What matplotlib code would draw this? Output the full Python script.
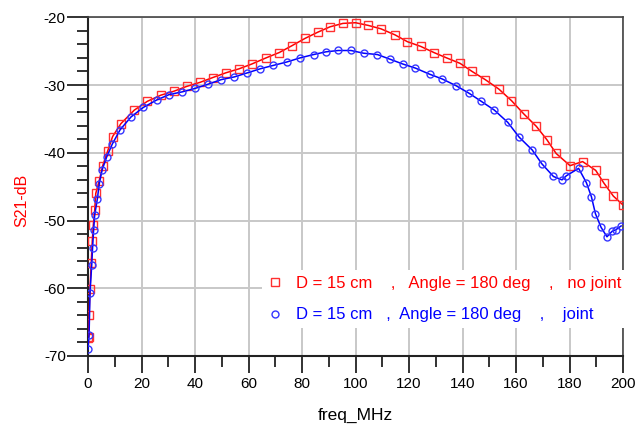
import matplotlib
matplotlib.use("Agg")
import matplotlib.pyplot as plt
from matplotlib.lines import Line2D
from matplotlib.ticker import MultipleLocator

# no joint (red squares)
freq_nojoint = [0.0, 0.25, 0.4, 0.75, 1.2, 1.6, 2.0, 2.5, 2.9, 4.2,
                5.5, 7.3, 9.2, 12.3, 17.3, 22.2, 27.2, 32.2, 36.9, 41.9,
                46.6, 51.5, 56.5, 61.2, 66.5, 71.5, 76.2, 81.2, 85.9, 90.5,
                95.3, 100.0, 104.8, 109.5, 114.8, 119.4, 124.4, 129.3, 134.1, 139.1,
                143.6, 148.5, 153.6, 158.3, 163.0, 167.6, 171.6, 175.0, 180.2, 184.9,
                189.8, 192.9, 196.4, 200.0]
s21_nojoint = [-67.3, -67.2, -63.9, -60.1, -56.3, -53.0, -50.6, -48.5, -46.0, -44.1,
               -41.9, -39.8, -37.6, -35.7, -33.7, -32.4, -31.5, -30.9, -30.2, -29.6,
               -28.9, -28.2, -27.6, -26.9, -26.0, -25.2, -24.2, -23.1, -22.2, -21.4,
               -20.9, -20.8, -21.2, -21.7, -22.6, -23.6, -24.3, -25.2, -26.0, -26.8,
               -28.0, -29.2, -30.6, -32.3, -34.3, -36.1, -38.1, -40.1, -41.9, -41.3,
               -42.6, -44.5, -46.4, -47.7]

# joint (blue circles)
freq_joint = [0.0, 0.4, 0.75, 1.4, 1.7, 2.1, 2.5, 3.5, 4.2, 5.3,
              7.0, 9.1, 12.0, 16.1, 20.7, 25.7, 30.4, 35.3, 40.0, 44.7,
              49.8, 54.7, 59.6, 64.4, 69.3, 74.3, 79.2, 84.3, 88.9, 93.6,
              98.3, 103.0, 108.2, 113.0, 117.7, 122.4, 127.7, 132.4, 137.6, 142.4,
              147.0, 151.9, 156.9, 161.2, 166.1, 169.6, 174.0, 177.2, 178.8, 183.4,
              186.3, 188.2, 189.7, 191.8, 194.0, 195.9, 197.2, 199.3]
s21_joint = [-69.0, -66.9, -60.7, -56.5, -54.1, -51.4, -49.2, -46.8, -44.6, -42.5,
             -40.6, -38.7, -36.6, -34.7, -33.3, -32.2, -31.4, -31.0, -30.5, -29.9,
             -29.2, -28.8, -28.2, -27.6, -27.1, -26.6, -26.0, -25.5, -25.1, -24.9,
             -24.9, -25.3, -25.5, -26.2, -26.9, -27.5, -28.4, -29.1, -30.1, -31.2,
             -32.4, -33.7, -35.5, -37.7, -39.6, -41.6, -43.5, -44.0, -43.4, -42.3,
             -44.4, -46.5, -49.0, -51.0, -52.4, -51.6, -51.4, -50.8]

labels = ["D = 15 cm    ,   Angle = 180 deg    ,   no joint",
          "D = 15 cm   ,  Angle = 180 deg    ,    joint"]

plt.rcParams["font.family"] = ["Liberation Sans", "DejaVu Sans"]
plt.rcParams["axes.unicode_minus"] = False

RED = "#ff0000"
BLUE = "#0000ff"

fig = plt.figure(figsize=(6.37, 4.28), dpi=100)
ax = fig.add_axes([88 / 637, 1 - 356 / 428, (623 - 88) / 637, (356 - 17.3) / 428])

ax.plot(freq_nojoint, s21_nojoint, "-", color=RED, lw=1.1, marker="s",
        ms=6, mfc="none", mec="#ff3030", mew=1.0, zorder=3)
ax.plot(freq_joint, s21_joint, "-", color=BLUE, lw=1.1, marker="o",
        ms=5, mfc="none", mec="#3535ff", mew=1.0, zorder=3)

ax.set_xlim(0, 200)
ax.set_ylim(-70, -20)
ax.xaxis.set_major_locator(MultipleLocator(20))
ax.xaxis.set_minor_locator(MultipleLocator(10))
ax.yaxis.set_major_locator(MultipleLocator(10))
ax.yaxis.set_minor_locator(MultipleLocator(2))
ax.grid(True, which="major", color="#c8c8c8", lw=1.4)
ax.tick_params(which="major", length=12, width=1.3, labelsize=11, pad=3, color="#222222")
ax.tick_params(axis="y", which="major", length=15, pad=1)
ax.tick_params(which="minor", length=8, width=1.3, color="#222222")
for side in ["left", "bottom"]:
    ax.spines[side].set_linewidth(1.5)
    ax.spines[side].set_color("#222222")
for side in ["top", "right"]:
    ax.spines[side].set_linewidth(1.2)
    ax.spines[side].set_color("#444444")

ax.set_xlabel("freq_MHz", fontsize=12.5, labelpad=12)
fig.text(22 / 637, 1 - 200 / 428, "S21-dB", color=RED, fontsize=11.5,
         rotation=90, ha="center", va="center")

handles = [Line2D([], [], ls="none", marker="s", ms=6, mfc="none", mec="#ff3030", mew=1.0),
           Line2D([], [], ls="none", marker="o", ms=5, mfc="none", mec="#3535ff", mew=1.0)]
leg = ax.legend(handles, labels, loc="upper left",
                bbox_to_anchor=(262 / 637, 1 - 270 / 428), bbox_transform=fig.transFigure,
                frameon=True, facecolor="white", edgecolor="none", framealpha=1,
                fancybox=False, fontsize=12, handlelength=0.8, handletextpad=0.9,
                labelspacing=1.0, borderpad=0.35, borderaxespad=0)
for txt, c in zip(leg.get_texts(), [RED, BLUE]):
    txt.set_color(c)
leg.set_zorder(2.5)

fig.savefig("out.png", dpi=100)
